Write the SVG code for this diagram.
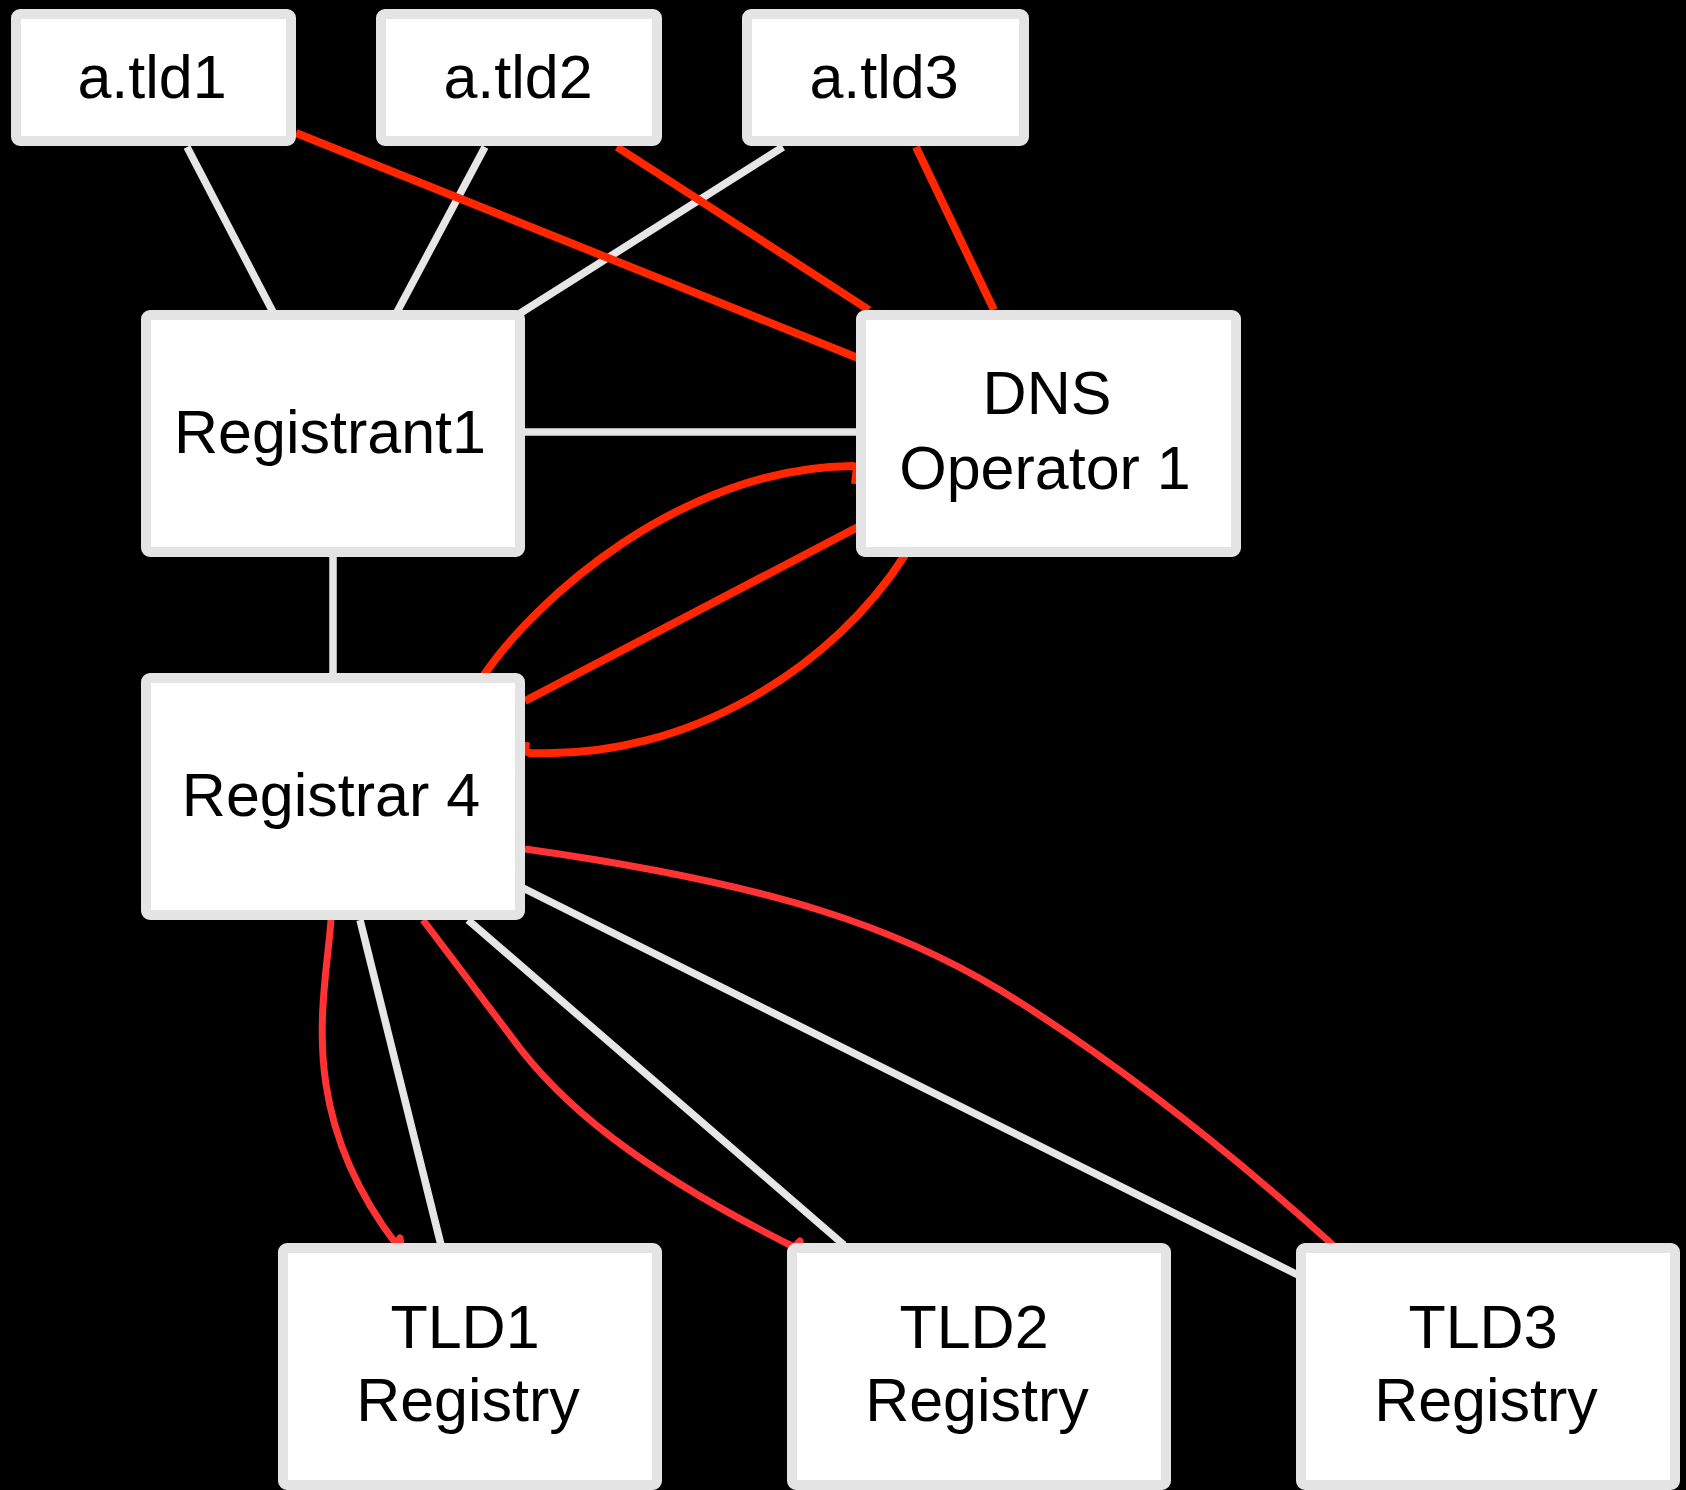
<svg xmlns="http://www.w3.org/2000/svg" width="1686" height="1490" viewBox="0 0 1686 1490">
  <style>
    .box { fill: #ffffff; stroke: #e4e4e4; stroke-width: 10; }
    .label { font-family: "Liberation Sans", Arial, sans-serif; font-size: 61px; fill: #000000; text-anchor: middle; }
    .link { fill: none; stroke: #e6e6e6; stroke-width: 7.5; }
    .rel { fill: none; stroke: #ff2600; stroke-width: 8; stroke-linejoin: round; }
    .rel2 { fill: none; stroke: #ff3333; stroke-width: 7; stroke-linejoin: round; }
  </style>
  <rect width="1686" height="1490" fill="#000000"/>

  <g id="connectors">
    <!-- plain associations -->
    <line class="link" x1="187" y1="147" x2="273" y2="312"/>
    <line class="link" x1="485" y1="147" x2="397" y2="312"/>
    <line class="link" x1="783" y1="147" x2="519" y2="314"/>
    <line class="link" x1="525" y1="432" x2="858" y2="432"/>
    <line class="link" x1="333" y1="557" x2="333" y2="675"/>
    <line class="link" x1="360" y1="920" x2="441" y2="1245"/>
    <line class="link" x1="468" y1="920" x2="844" y2="1245"/>
    <line class="link" x1="523" y1="888" x2="1298" y2="1275"/>

    <!-- domain / operator relations -->
    <line class="rel" x1="296" y1="133" x2="858" y2="358"/>
    <line class="rel" x1="617" y1="147" x2="869" y2="310"/>
    <line class="rel" x1="916" y1="147" x2="994" y2="310"/>
    <path class="rel" d="M 484 675 C 535 600, 680 468, 852 466 L 857 467 L 855 484"/>
    <line class="rel" x1="525" y1="701" x2="858" y2="527"/>
    <path class="rel" d="M 905 555 C 835 665, 690 760, 530 753 L 525 751 L 526 742"/>

    <!-- registrar to registry relations -->
    <path class="rel2" d="M 331 920 C 325 1000, 295 1110, 396 1244 L 400 1238 L 401 1245"/>
    <path class="rel2" d="M 423 920 L 510 1035 C 560 1105, 640 1170, 794 1247 L 800 1241 L 801 1248"/>
    <path class="rel2" d="M 525 849 C 780 885, 900 930, 1000 990 C 1130 1070, 1250 1170, 1333 1245"/>
  </g>

  <g id="node-atld1">
    <rect class="box" x="16" y="14" width="275" height="127" rx="4"/>
    <text class="label" x="152" y="98">a.tld1</text>
  </g>
  <g id="node-atld2">
    <rect class="box" x="381" y="14" width="276" height="127" rx="4"/>
    <text class="label" x="518" y="98">a.tld2</text>
  </g>
  <g id="node-atld3">
    <rect class="box" x="747" y="14" width="277" height="127" rx="4"/>
    <text class="label" x="884" y="98">a.tld3</text>
  </g>
  <g id="node-registrant1">
    <rect class="box" x="146" y="315" width="374" height="237" rx="4"/>
    <text class="label" x="330" y="453">Registrant1</text>
  </g>
  <g id="node-dns-operator1">
    <rect class="box" x="861" y="315" width="375" height="237" rx="4"/>
    <text class="label" x="1047" y="414">DNS</text>
    <text class="label" x="1045" y="489">Operator 1</text>
  </g>
  <g id="node-registrar4">
    <rect class="box" x="146" y="678" width="374" height="237" rx="4"/>
    <text class="label" x="331" y="816">Registrar 4</text>
  </g>
  <g id="node-tld1-registry">
    <rect class="box" x="283" y="1248" width="374" height="237" rx="4"/>
    <text class="label" x="465" y="1348">TLD1</text>
    <text class="label" x="468" y="1421">Registry</text>
  </g>
  <g id="node-tld2-registry">
    <rect class="box" x="792" y="1248" width="374" height="237" rx="4"/>
    <text class="label" x="974" y="1348">TLD2</text>
    <text class="label" x="977" y="1421">Registry</text>
  </g>
  <g id="node-tld3-registry">
    <rect class="box" x="1301" y="1248" width="374" height="237" rx="4"/>
    <text class="label" x="1483" y="1348">TLD3</text>
    <text class="label" x="1486" y="1421">Registry</text>
  </g>
</svg>
